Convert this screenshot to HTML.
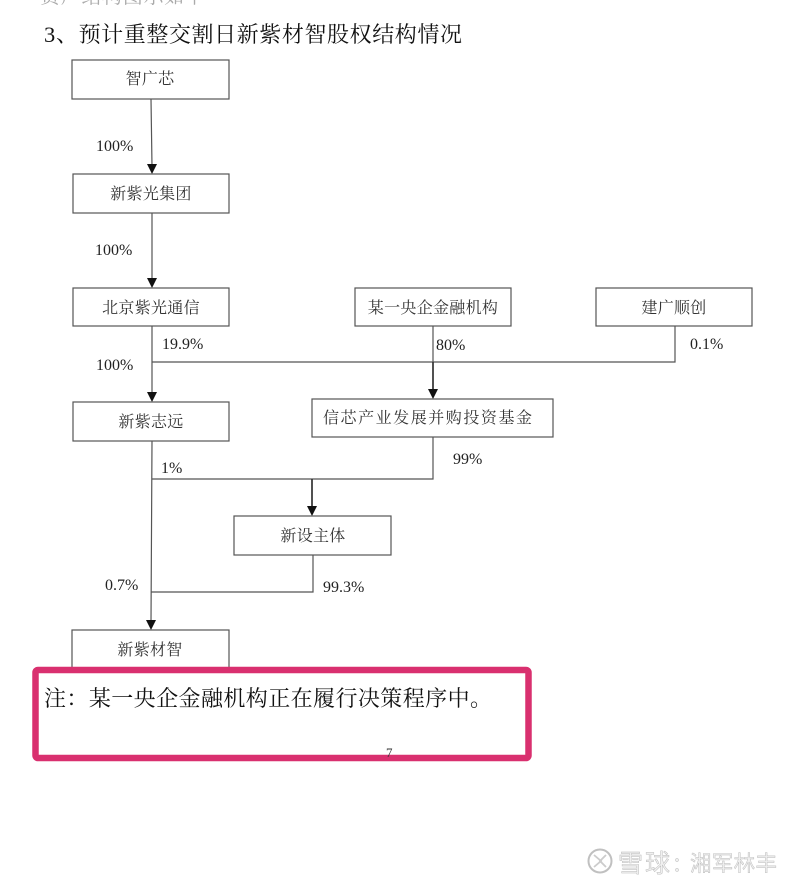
<!DOCTYPE html>
<html><head><meta charset="utf-8"><style>
html,body{margin:0;padding:0;background:#fff;width:800px;height:889px;overflow:hidden}
svg{display:block}
.c{font-family:"Noto Serif CJK SC","Liberation Serif",serif}
.n{font-family:"Noto Serif CJK SC",serif;font-size:16px;fill:#333;text-anchor:middle;letter-spacing:.3px}
.p{font-family:"Liberation Serif",serif;font-size:16px;fill:#222}
rect.b{fill:#fff;stroke:#555;stroke-width:1.2}
.l{stroke:#555;stroke-width:1.2;fill:none}
.d{stroke:#333;stroke-width:1.7;fill:none}
.a{fill:#111}
.w{font-family:"Noto Sans CJK SC",sans-serif;fill:#f0f0f0;stroke:#b8b8b8;stroke-width:.45}
</style></head><body>
<svg width="800" height="889" viewBox="0 0 800 889" xmlns="http://www.w3.org/2000/svg">
<text x="40" y="3" class="c" font-size="20" fill="#aaa" textLength="165">资产结构图示如下</text>
<text x="44" y="42" font-family="'Liberation Serif',serif" font-size="22.5" fill="#111">3</text>
<text x="56" y="42" class="c" font-size="22" fill="#111" textLength="406">、预计重整交割日新紫材智股权结构情况</text>

<path class="l" d="M151 99L152 166M152 213V280M152 326V394M152 362H675V326M433 326V362M152 441L151 622M152 479H433V437M313 555V592H151"/>
<path class="d" d="M433 362V391M312 479V508"/>
<path class="a" d="M147 164H157L152 174ZM147 278H157L152 288ZM147 392H157L152 402ZM428 389H438L433 399ZM307 506H317L312 516ZM146 620H156L151 630Z"/>

<rect class="b" x="72" y="60" width="157" height="39"/>
<rect class="b" x="73" y="174" width="156" height="39"/>
<rect class="b" x="73" y="288" width="156" height="38"/>
<rect class="b" x="355" y="288" width="156" height="38"/>
<rect class="b" x="596" y="288" width="156" height="38"/>
<rect class="b" x="73" y="402" width="156" height="39"/>
<rect class="b" x="312" y="399" width="241" height="38"/>
<rect class="b" x="234" y="516" width="157" height="39"/>
<rect class="b" x="72" y="630" width="157" height="50"/>

<text class="n" x="150" y="84">智广芯</text>
<text class="n" x="151" y="199">新紫光集团</text>
<text class="n" x="151" y="313">北京紫光通信</text>
<text class="n" x="433" y="313">某一央企金融机构</text>
<text class="n" x="674" y="313">建广顺创</text>
<text class="n" x="151" y="427">新紫志远</text>
<text x="323" y="423" font-family="'Noto Serif CJK SC',serif" font-size="16" fill="#333" textLength="209">信芯产业发展并购投资基金</text>
<text class="n" x="313" y="541">新设主体</text>
<text class="n" x="150" y="655">新紫材智</text>

<text class="p" x="96" y="151">100%</text>
<text class="p" x="95" y="255">100%</text>
<text class="p" x="162" y="349">19.9%</text>
<text class="p" x="96" y="370">100%</text>
<text class="p" x="436" y="350">80%</text>
<text class="p" x="690" y="349">0.1%</text>
<text class="p" x="161" y="473">1%</text>
<text class="p" x="453" y="464">99%</text>
<text class="p" x="105" y="590">0.7%</text>
<text class="p" x="323" y="592">99.3%</text>

<rect x="35.500" y="670" width="493" height="88" rx="2.500" fill="#fff" stroke="#d9306f" stroke-width="6.500"/>
<text x="44" y="706" class="c" font-size="22" fill="#111" textLength="448">注：某一央企金融机构正在履行决策程序中。</text>
<text x="386" y="757" font-family="'Liberation Serif',serif" font-size="13" fill="#333">7</text>

<circle cx="600" cy="861" r="11.500" fill="none" stroke="#c0c0c0" stroke-width="2"/>
<path d="M594 855L601 861L594 867M606 855L600 861L606 867" fill="none" stroke="#ccc" stroke-width="1.800"/>
<text x="618" y="872" class="w" font-size="25" textLength="52">雪球</text>
<text x="672" y="871" class="w" font-size="20">：</text>
<text x="690" y="871" class="w" font-size="21.500" textLength="87">湘军林丰</text>
</svg>
</body></html>
